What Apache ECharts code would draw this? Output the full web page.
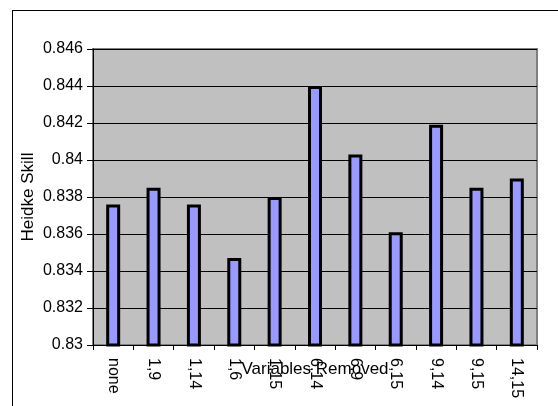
<!DOCTYPE html>
<html>
<head>
<meta charset="utf-8">
<script src="https://cdn.jsdelivr.net/npm/echarts@6/dist/echarts.min.js"></script>
<style>
  html, body { margin: 0; padding: 0; background: #fff; overflow: hidden; }
  #wrap { position: relative; width: 558px; height: 406px; overflow: hidden; }
  #frame { position: absolute; left: 12px; top: 10px; width: 700px; height: 600px;
           border-left: 1px solid #000; border-top: 1px solid #000; pointer-events: none; }
  #chart { position: absolute; left: 0; top: 0; width: 558px; height: 406px; }
</style>
</head>
<body>
<div id="wrap">
  <div id="chart"></div>
  <div id="frame"></div>
</div>
<script>
// Heidke skill score for each combination of removed variables
const categories = ['none', '1,9', '1,14', '1,6', '1,15', '6,14', '6,9', '6,15', '9,14', '9,15', '14,15'];
const heidkeSkill = [0.8376, 0.8385, 0.8376, 0.8347, 0.838, 0.844, 0.8403, 0.8361, 0.8419, 0.8385, 0.839];
const yTicks = [0.83, 0.832, 0.834, 0.836, 0.838, 0.84, 0.842, 0.844, 0.846];

const chart = echarts.init(document.getElementById('chart'), null, { renderer: 'canvas' });
const font = 'Liberation Sans, Arial, sans-serif';

chart.setOption({
  animation: false,
  backgroundColor: 'transparent',
  grid: {
    left: 93, right: 21, top: 49, bottom: 61,
    show: true,
    backgroundColor: '#C0C0C0',
    borderColor: '#808080',
    borderWidth: 2
  },
  xAxis: {
    type: 'category',
    data: categories,
    name: 'Variables Removed',
    nameLocation: 'middle',
    nameGap: 16,
    nameMoveOverlap: false,
    nameTextStyle: { fontFamily: font, fontSize: 17, color: '#000' },
    axisLine: { show: true, lineStyle: { color: '#000', width: 1 } },
    axisTick: { show: true, alignWithLabel: false, length: 5, lineStyle: { color: '#000' } },
    axisLabel: {
      rotate: -90, margin: 13, interval: 0,
      fontFamily: font, fontSize: 16, color: '#000'
    },
    splitLine: { show: false }
  },
  yAxis: {
    type: 'value',
    min: 0.83, max: 0.846, interval: 0.002,
    name: 'Heidke Skill',
    nameLocation: 'middle',
    nameGap: 56,
    nameMoveOverlap: false,
    nameTextStyle: { fontFamily: font, fontSize: 17, color: '#000' },
    axisLine: { show: true, lineStyle: { color: '#000', width: 1 } },
    axisTick: { show: true, length: 6, lineStyle: { color: '#000' } },
    axisLabel: {
      margin: 10,
      fontFamily: font, fontSize: 16, color: '#000',
      formatter: v => {
        const t = yTicks.find(x => Math.abs(x - v) < 1e-9);
        return String(t !== undefined ? t : +v.toFixed(3));
      }
    },
    splitLine: { show: true, lineStyle: { color: '#000', width: 1 } }
  },
  series: [{
    type: 'bar',
    data: heidkeSkill,
    barWidth: 14,
    itemStyle: { color: '#9999FF', borderColor: '#000', borderWidth: 3 }
  }]
});
</script>
</body>
</html>
